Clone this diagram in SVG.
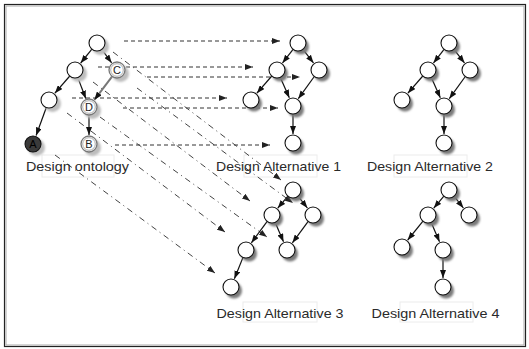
<svg xmlns="http://www.w3.org/2000/svg" width="529" height="349" viewBox="0 0 529 349">
  <defs>
    <filter id="soft" x="-50%" y="-50%" width="200%" height="200%">
      <feGaussianBlur stdDeviation="0.9"/>
    </filter>
    <marker id="tip" viewBox="0 0 8 6" refX="8" refY="3" markerWidth="8" markerHeight="6" markerUnits="userSpaceOnUse" orient="auto">
      <path d="M0,0 L8,3 L0,6 z" fill="#111"/>
    </marker>
    <marker id="maptip" viewBox="0 0 8 6" refX="8" refY="3" markerWidth="8" markerHeight="6" markerUnits="userSpaceOnUse" orient="auto">
      <path d="M0,0 L8,3 L0,6 z" fill="#222"/>
    </marker>
  </defs>
  <style>
    .frame-out { fill: none; stroke: #222; stroke-width: 1.2; }
    .frame-in { fill: none; stroke: #aaa; stroke-width: 1; }
    .edge { stroke: #111; stroke-width: 1.2; fill: none; marker-end: url(#tip); }
    .edge-grey { stroke: #777; stroke-width: 2; fill: none; marker-end: url(#tip); }
    .map-h { stroke: #333; stroke-width: 1; stroke-dasharray: 4 3; fill: none; marker-end: url(#maptip); }
    .map-d { stroke: #444; stroke-width: 1; stroke-dasharray: 6 4 1 4; fill: none; marker-end: url(#maptip); }
    .shadow { fill: #7a7a7a; filter: url(#soft); }
    .shadow-light { fill: #bdbdbd; filter: url(#soft); }
    .node { fill: #fff; stroke: #111; stroke-width: 1.1; }
    .node-dark { fill: #3a3a3a; stroke: #111; stroke-width: 1.1; }
    .node-mark { fill: #fff; stroke: #777; stroke-width: 1.3; }
    .ring { fill: none; stroke: #999; stroke-width: 0.8; }
    .letter { font-family: "Liberation Sans", Arial, sans-serif; font-size: 11px; fill: #222; text-anchor: middle; }
    .letter-dark { font-family: "Liberation Sans", Arial, sans-serif; font-size: 11px; fill: #000; text-anchor: middle; }
    .label { font-family: "Liberation Sans", Arial, sans-serif; font-size: 13px; fill: #2a2a2a; text-anchor: middle; }
    .label-box { fill: none; stroke: #ececec; stroke-width: 1; }
  </style>

  <rect width="529" height="349" fill="#fff"/>
  <rect class="frame-out" x="4.5" y="4.5" width="521" height="342"/>
  <rect class="frame-in" x="6" y="6" width="518" height="339"/>

  <!-- label boxes -->
  <g id="label-boxes">
    <rect class="label-box" x="42" y="155" width="72" height="22"/>
    <rect class="label-box" x="244" y="155" width="73" height="22"/>
    <rect class="label-box" x="394" y="155" width="73" height="22"/>
    <rect class="label-box" x="243" y="302" width="74" height="20"/>
    <rect class="label-box" x="400" y="302" width="73" height="20"/>
  </g>

  <!-- mapping connectors -->
  <g id="mappings">
    <line class="map-h" x1="124" y1="41" x2="280" y2="41"/>
    <line class="map-h" x1="98" y1="67" x2="253" y2="67"/>
    <line class="map-h" x1="147" y1="77" x2="300" y2="77"/>
    <line class="map-h" x1="72" y1="98" x2="227" y2="98"/>
    <line class="map-h" x1="123" y1="108" x2="278" y2="108"/>
    <line class="map-h" x1="115" y1="145" x2="270" y2="145"/>
    <line class="map-d" x1="113" y1="52" x2="281" y2="180"/>
    <line class="map-d" x1="93" y1="82" x2="250" y2="201"/>
    <line class="map-d" x1="137" y1="88" x2="293" y2="203"/>
    <line class="map-d" x1="67" y1="113" x2="225" y2="232"/>
    <line class="map-d" x1="100" y1="117" x2="267" y2="237"/>
    <line class="map-d" x1="55" y1="155" x2="215" y2="273"/>
  </g>

  <!-- tree edges -->
  <g id="edges">
    <!-- ontology -->
    <line class="edge" x1="91.9" y1="49.2" x2="80.7" y2="63"/>
    <line class="edge" x1="101.8" y1="49.4" x2="111.6" y2="62.8"/>
    <line class="edge" x1="69.8" y1="76" x2="54.9" y2="93.2"/>
    <line class="edge" x1="77.8" y1="77.5" x2="85.8" y2="98.6"/>
    <line class="edge-grey" x1="112.2" y1="76.4" x2="94.4" y2="99.8"/>
    <line class="edge" x1="46.3" y1="107.5" x2="36.1" y2="135.5"/>
    <line class="edge" x1="89" y1="115" x2="89" y2="135"/>
    <!-- alternative 1 -->
    <line class="edge" x1="293.1" y1="49.3" x2="282.5" y2="62.9"/>
    <line class="edge" x1="302.9" y1="49.3" x2="313.5" y2="62.9"/>
    <line class="edge" x1="271.8" y1="76" x2="256.9" y2="93.2"/>
    <line class="edge" x1="280.2" y1="77.3" x2="289.3" y2="97.8"/>
    <line class="edge" x1="314.3" y1="76.5" x2="298.3" y2="98.7"/>
    <line class="edge" x1="293" y1="114" x2="293" y2="134"/>
    <!-- alternative 2 -->
    <line class="edge" x1="444.1" y1="49.3" x2="433.5" y2="62.9"/>
    <line class="edge" x1="453.9" y1="49.3" x2="464.5" y2="62.9"/>
    <line class="edge" x1="422.8" y1="76" x2="407.9" y2="93.2"/>
    <line class="edge" x1="431.2" y1="77.3" x2="440.3" y2="97.8"/>
    <line class="edge" x1="465.3" y1="76.5" x2="449.3" y2="98.7"/>
    <line class="edge" x1="444" y1="114" x2="444" y2="134"/>
    <!-- alternative 3 -->
    <line class="edge" x1="287.9" y1="196.1" x2="277.8" y2="208.1"/>
    <line class="edge" x1="298" y1="196.2" x2="307.4" y2="208"/>
    <line class="edge" x1="267.2" y1="221.4" x2="251.4" y2="242.8"/>
    <line class="edge" x1="275.2" y1="222.4" x2="283.5" y2="241.7"/>
    <line class="edge" x1="308.2" y1="221.4" x2="292.4" y2="242.8"/>
    <line class="edge" x1="243" y1="257.4" x2="234.4" y2="278.7"/>
    <!-- alternative 4 -->
    <line class="edge" x1="443.9" y1="196.1" x2="433.8" y2="208.1"/>
    <line class="edge" x1="454" y1="196.2" x2="463.4" y2="208"/>
    <line class="edge" x1="423" y1="221.2" x2="407.7" y2="240"/>
    <line class="edge" x1="431.2" y1="222.4" x2="439.5" y2="241.7"/>
    <line class="edge" x1="443" y1="258" x2="443" y2="278"/>
  </g>

  <!-- design ontology -->
  <g id="onto-root"><circle class="shadow-light" cx="100.5" cy="46.5" r="8.5"/><circle class="node" cx="97" cy="43" r="8"/></g>
  <g id="onto-left"><circle class="shadow-light" cx="78.5" cy="73.5" r="8.5"/><circle class="node" cx="75" cy="70" r="8"/></g>
  <g id="onto-c"><circle class="shadow-light" cx="120.5" cy="73.5" r="8.5"/><circle class="node-mark" cx="117" cy="70" r="8"/><circle class="ring" cx="117" cy="70" r="6.3"/><text class="letter" x="117" y="74">C</text></g>
  <g id="onto-leftleft"><circle class="shadow-light" cx="52.5" cy="103.5" r="8.5"/><circle class="node" cx="49" cy="100" r="8"/></g>
  <g id="onto-d"><circle class="shadow-light" cx="92.5" cy="110.5" r="8.5"/><circle class="node-mark" cx="89" cy="107" r="8"/><circle class="ring" cx="89" cy="107" r="6.3"/><text class="letter" x="89" y="111">D</text></g>
  <g id="onto-a"><circle class="shadow-light" cx="36.5" cy="147.5" r="8.5"/><circle class="node-dark" cx="33" cy="144" r="8"/><text class="letter-dark" x="33" y="148">A</text></g>
  <g id="onto-b"><circle class="shadow-light" cx="92.5" cy="147.5" r="8.5"/><circle class="node-mark" cx="89" cy="144" r="8"/><circle class="ring" cx="89" cy="144" r="6.3"/><text class="letter" x="89" y="148">B</text></g>
  <text class="label" x="77.5" y="171" textLength="103" lengthAdjust="spacingAndGlyphs">Design ontology</text>

  <!-- design alternative 1 -->
  <g id="alt1-root"><circle class="shadow" cx="301" cy="46.5" r="8"/><circle class="node" cx="298" cy="43" r="8"/></g>
  <g id="alt1-left"><circle class="shadow" cx="280" cy="73.5" r="8"/><circle class="node" cx="277" cy="70" r="8"/></g>
  <g id="alt1-right"><circle class="shadow" cx="322" cy="73.5" r="8"/><circle class="node" cx="319" cy="70" r="8"/></g>
  <g id="alt1-leftleft"><circle class="shadow" cx="254" cy="103.5" r="8"/><circle class="node" cx="251" cy="100" r="8"/></g>
  <g id="alt1-mid"><circle class="shadow" cx="296" cy="109.5" r="8"/><circle class="node" cx="293" cy="106" r="8"/></g>
  <g id="alt1-bottom"><circle class="shadow" cx="296" cy="146.5" r="8"/><circle class="node" cx="293" cy="143" r="8"/></g>
  <text class="label" x="278.5" y="171" textLength="125" lengthAdjust="spacingAndGlyphs">Design Alternative 1</text>

  <!-- design alternative 2 -->
  <g id="alt2-root"><circle class="shadow" cx="452" cy="46.5" r="8"/><circle class="node" cx="449" cy="43" r="8"/></g>
  <g id="alt2-left"><circle class="shadow" cx="431" cy="73.5" r="8"/><circle class="node" cx="428" cy="70" r="8"/></g>
  <g id="alt2-right"><circle class="shadow" cx="473" cy="73.5" r="8"/><circle class="node" cx="470" cy="70" r="8"/></g>
  <g id="alt2-leftleft"><circle class="shadow" cx="405" cy="103.5" r="8"/><circle class="node" cx="402" cy="100" r="8"/></g>
  <g id="alt2-mid"><circle class="shadow" cx="447" cy="109.5" r="8"/><circle class="node" cx="444" cy="106" r="8"/></g>
  <g id="alt2-bottom"><circle class="shadow" cx="447" cy="146.5" r="8"/><circle class="node" cx="444" cy="143" r="8"/></g>
  <text class="label" x="430" y="171" textLength="126" lengthAdjust="spacingAndGlyphs">Design Alternative 2</text>

  <!-- design alternative 3 -->
  <g id="alt3-root"><circle class="shadow" cx="296" cy="193.5" r="8"/><circle class="node" cx="293" cy="190" r="8"/></g>
  <g id="alt3-left"><circle class="shadow" cx="275" cy="218.5" r="8"/><circle class="node" cx="272" cy="215" r="8"/></g>
  <g id="alt3-right"><circle class="shadow" cx="316" cy="218.5" r="8"/><circle class="node" cx="313" cy="215" r="8"/></g>
  <g id="alt3-leftleft"><circle class="shadow" cx="249" cy="253.5" r="8"/><circle class="node" cx="246" cy="250" r="8"/></g>
  <g id="alt3-midright"><circle class="shadow" cx="290" cy="253.5" r="8"/><circle class="node" cx="287" cy="250" r="8"/></g>
  <g id="alt3-bottom"><circle class="shadow" cx="234" cy="290.5" r="8"/><circle class="node" cx="231" cy="287" r="8"/></g>
  <text class="label" x="280" y="318" textLength="127" lengthAdjust="spacingAndGlyphs">Design Alternative 3</text>

  <!-- design alternative 4 -->
  <g id="alt4-root"><circle class="shadow" cx="452" cy="193.5" r="8"/><circle class="node" cx="449" cy="190" r="8"/></g>
  <g id="alt4-left"><circle class="shadow" cx="431" cy="218.5" r="8"/><circle class="node" cx="428" cy="215" r="8"/></g>
  <g id="alt4-right"><circle class="shadow" cx="472" cy="218.5" r="8"/><circle class="node" cx="469" cy="215" r="8"/></g>
  <g id="alt4-leftleft"><circle class="shadow" cx="405" cy="250.5" r="8"/><circle class="node" cx="402" cy="247" r="8"/></g>
  <g id="alt4-mid"><circle class="shadow" cx="446" cy="253.5" r="8"/><circle class="node" cx="443" cy="250" r="8"/></g>
  <g id="alt4-bottom"><circle class="shadow" cx="446" cy="290.5" r="8"/><circle class="node" cx="443" cy="287" r="8"/></g>
  <text class="label" x="435.5" y="318" textLength="128" lengthAdjust="spacingAndGlyphs">Design Alternative 4</text>
</svg>
